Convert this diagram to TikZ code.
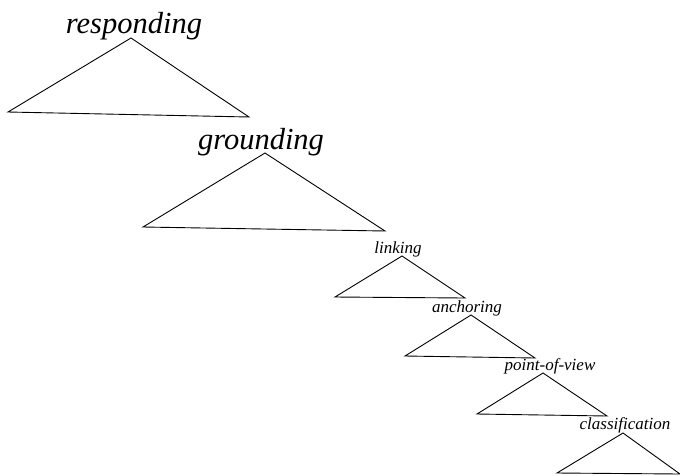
\documentclass[tikz,border=0pt]{standalone}
\usepackage{fontspec}
\setmainfont{Liberation Serif}
\usetikzlibrary{positioning}

\begin{document}
\begin{tikzpicture}[x=1pt,y=-1pt,
  big/.style={font=\fontsize{30.5}{32}\selectfont\itshape,inner sep=0pt,anchor=base},
  small/.style={font=\fontsize{17}{19}\selectfont\itshape,inner sep=0pt,anchor=base},
  roof/.style={draw,line width=0.9pt,line join=miter}]
\useasboundingbox (0,0) rectangle (680,475);
% labels
\node[big] (resp) at (134,33) {responding};
\node[big] (grnd) at (261,149) {grounding};
\node[small] (link) at (398,253) {linking};
\node[small] (anch) at (467,312) {anchoring};
\node[small] (pov) at (550,370) {point-of-view};
\node[small] (cls) at (625,429) {classification};
% roofs under each label
\draw[roof] (131,38) -- (8,112) -- (249,117) -- cycle;
\draw[roof] (265,153) -- (143,227) -- (385,231) -- cycle;
\draw[roof] (402,256) -- (335,297) -- (465,298) -- cycle;
\draw[roof] (471,315) -- (405,356) -- (535,358) -- cycle;
\draw[roof] (543,373) -- (477,414) -- (607,416) -- cycle;
\draw[roof] (623,433) -- (557,473) -- (680,474) -- cycle;
\end{tikzpicture}
\end{document}
